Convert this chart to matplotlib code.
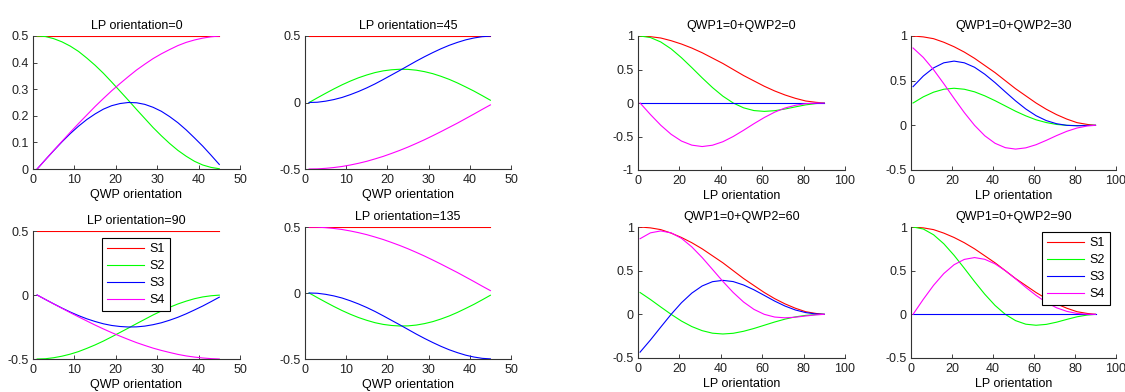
import matplotlib
matplotlib.use("Agg")
import matplotlib.pyplot as plt

plt.rcParams['font.family'] = ['Liberation Sans', 'DejaVu Sans']
FS = 9

# QWP orientation (left block)
qwp_x = list(range(1, 46, 2))

lp0_s1 = [0.5] * 23
lp0_s2 = [0.5, 0.498, 0.49, 0.478, 0.462, 0.442, 0.417, 0.39, 0.36, 0.327, 0.293, 0.259,
          0.224, 0.19, 0.156, 0.125, 0.096, 0.07, 0.048, 0.029, 0.015, 0.006, 0.001]
lp0_s3 = [0.0, 0.035, 0.069, 0.102, 0.133, 0.161, 0.186, 0.207, 0.225, 0.238, 0.246, 0.25,
          0.249, 0.243, 0.232, 0.217, 0.197, 0.174, 0.147, 0.117, 0.086, 0.052, 0.017]
lp0_s4 = [0.0, 0.035, 0.07, 0.104, 0.138, 0.171, 0.203, 0.235, 0.265, 0.294, 0.321, 0.347,
          0.372, 0.394, 0.415, 0.433, 0.449, 0.464, 0.476, 0.485, 0.492, 0.497, 0.5]

lp45_s1 = [0.5] * 23
lp45_s2 = [0.0, 0.035, 0.069, 0.102, 0.133, 0.161, 0.186, 0.207, 0.225, 0.238, 0.246, 0.25,
           0.249, 0.243, 0.232, 0.217, 0.197, 0.174, 0.147, 0.117, 0.086, 0.052, 0.017]
lp45_s3 = [0.0, 0.002, 0.01, 0.022, 0.038, 0.059, 0.083, 0.11, 0.14, 0.173, 0.207, 0.241,
           0.276, 0.311, 0.344, 0.375, 0.404, 0.43, 0.452, 0.471, 0.485, 0.495, 0.499]
lp45_s4 = [-0.5, -0.499, -0.495, -0.489, -0.481, -0.47, -0.457, -0.442, -0.424, -0.405,
           -0.383, -0.36, -0.335, -0.308, -0.28, -0.25, -0.219, -0.187, -0.155, -0.121,
           -0.087, -0.052, -0.018]

lp90_s1 = [0.5] * 23
lp90_s2 = [-0.5, -0.498, -0.49, -0.478, -0.462, -0.442, -0.417, -0.39, -0.36, -0.327,
           -0.293, -0.259, -0.224, -0.19, -0.156, -0.125, -0.096, -0.07, -0.048, -0.029,
           -0.015, -0.006, -0.001]
lp90_s3 = [0.0, -0.035, -0.069, -0.102, -0.133, -0.161, -0.186, -0.207, -0.225, -0.238,
           -0.246, -0.25, -0.249, -0.243, -0.232, -0.217, -0.197, -0.174, -0.147, -0.117,
           -0.086, -0.052, -0.017]
lp90_s4 = [0.0, -0.035, -0.07, -0.104, -0.138, -0.171, -0.203, -0.235, -0.265, -0.294,
           -0.321, -0.347, -0.372, -0.394, -0.415, -0.433, -0.449, -0.464, -0.476, -0.485,
           -0.492, -0.497, -0.5]

lp135_s1 = [0.5] * 23
lp135_s2 = [0.0, -0.035, -0.069, -0.102, -0.133, -0.161, -0.186, -0.207, -0.225, -0.238,
            -0.246, -0.25, -0.249, -0.243, -0.232, -0.217, -0.197, -0.174, -0.147, -0.117,
            -0.086, -0.052, -0.017]
lp135_s3 = [0.0, -0.002, -0.01, -0.022, -0.038, -0.059, -0.083, -0.11, -0.14, -0.173,
            -0.207, -0.241, -0.276, -0.311, -0.344, -0.375, -0.404, -0.43, -0.452, -0.471,
            -0.485, -0.495, -0.499]
lp135_s4 = [0.5, 0.499, 0.495, 0.489, 0.481, 0.47, 0.457, 0.442, 0.424, 0.405, 0.383, 0.36,
            0.335, 0.308, 0.28, 0.25, 0.219, 0.187, 0.155, 0.121, 0.087, 0.052, 0.018]

# LP orientation (right block)
lp_x = [1, 6, 11, 16, 21, 26, 31, 36, 41, 46, 51, 56, 61, 66, 71, 76, 81, 86, 90]

int_s1 = [1.0, 0.99, 0.97, 0.93, 0.88, 0.82, 0.75, 0.67, 0.59, 0.5, 0.41, 0.33,
          0.25, 0.18, 0.12, 0.07, 0.03, 0.01, 0.0]

q0_s2 = [1.0, 0.977, 0.911, 0.808, 0.676, 0.528, 0.375, 0.23, 0.102, 0.0, -0.072,
         -0.113, -0.125, -0.115, -0.09, -0.058, -0.028, -0.008, 0.0]
q0_s3 = [0.0] * 19
q0_s4 = [0.0, -0.172, -0.332, -0.467, -0.568, -0.629, -0.65, -0.63, -0.578, -0.5,
         -0.407, -0.309, -0.217, -0.137, -0.075, -0.034, -0.01, -0.001, 0.0]

q30_s2 = [0.25, 0.319, 0.371, 0.404, 0.415, 0.404, 0.375, 0.33, 0.276, 0.217, 0.158,
          0.106, 0.062, 0.031, 0.01, 0.0, -0.003, -0.001, 0.0]
q30_s3 = [0.433, 0.552, 0.643, 0.70, 0.719, 0.70, 0.65, 0.572, 0.478, 0.375, 0.274,
          0.183, 0.108, 0.053, 0.018, 0.0, -0.005, -0.002, 0.0]
q30_s4 = [0.866, 0.76, 0.623, 0.466, 0.302, 0.143, 0.0, -0.117, -0.201, -0.25, -0.266,
          -0.252, -0.217, -0.168, -0.115, -0.067, -0.03, -0.007, 0.0]

q60_s2 = [0.25, 0.17, 0.084, 0.0, -0.077, -0.14, -0.187, -0.216, -0.225, -0.217,
          -0.194, -0.162, -0.125, -0.088, -0.055, -0.029, -0.012, -0.003, 0.0]
q60_s3 = [-0.433, -0.294, -0.146, 0.0, 0.133, 0.243, 0.325, 0.374, 0.389, 0.375,
          0.336, 0.281, 0.217, 0.152, 0.095, 0.05, 0.02, 0.004, 0.0]
q60_s4 = [0.866, 0.933, 0.955, 0.933, 0.87, 0.772, 0.65, 0.514, 0.377, 0.25, 0.141,
          0.057, 0.0, -0.031, -0.04, -0.033, -0.019, -0.006, 0.0]

q90_s2 = [1.0, 0.977, 0.911, 0.808, 0.676, 0.528, 0.375, 0.23, 0.102, 0.0, -0.072,
          -0.113, -0.125, -0.115, -0.09, -0.058, -0.028, -0.008, 0.0]
q90_s3 = [0.0] * 19
q90_s4 = [0.0, 0.172, 0.332, 0.467, 0.568, 0.629, 0.65, 0.63, 0.578, 0.5, 0.407,
          0.309, 0.217, 0.137, 0.075, 0.034, 0.01, 0.001, 0.0]

colors = ['#ff0000', '#00ff00', '#0000ff', '#ff00ff']
labels = ['S1', 'S2', 'S3', 'S4']

W, H = 1125, 392
fig = plt.figure(figsize=(W / 100, H / 100), dpi=100)


def make_ax(x0, x1, ytop, ybot):
    return fig.add_axes([x0 / W, 1 - ybot / H, (x1 - x0) / W, (ybot - ytop) / H])


def style(ax, title, xlabel, xlim, xticks, ylim, yticks, yticklabels):
    ax.set_title(title, fontsize=FS, pad=5)
    ax.set_xlabel(xlabel, fontsize=FS, labelpad=2.5)
    ax.set_xlim(*xlim)
    ax.set_ylim(*ylim)
    ax.set_xticks(xticks)
    ax.set_yticks(yticks)
    ax.set_yticklabels(yticklabels)
    for s in ['top', 'right']:
        ax.spines[s].set_visible(False)
    for s in ['left', 'bottom']:
        ax.spines[s].set_color('#333333')
        ax.spines[s].set_linewidth(0.8)
    ax.tick_params(direction='in', length=3, width=0.6, pad=3, colors='#222222',
                   labelsize=FS)
    ax.tick_params(axis='x', pad=3.5)


def draw(ax, x, series, legend=None):
    for ys, c, lab in zip(series, colors, labels):
        ax.plot(x, ys, color=c, lw=0.8, label=lab)
    if legend is not None:
        leg = ax.legend(loc='upper left', bbox_to_anchor=legend, fancybox=False,
                        edgecolor='black', framealpha=1, fontsize=FS,
                        handlelength=3.0, handletextpad=0.4, borderpad=0.4,
                        labelspacing=0.4, borderaxespad=0)
        leg.get_frame().set_linewidth(0.8)


half_ticks = [-0.5, 0, 0.5]
half_labels = ['-0.5', '0', '0.5']

# left block
ax = make_ax(33, 240, 36, 169)
draw(ax, qwp_x, [lp0_s1, lp0_s2, lp0_s3, lp0_s4])
style(ax, 'LP orientation=0', 'QWP orientation', (0, 50), range(0, 51, 10),
      (0, 0.5), [0, 0.1, 0.2, 0.3, 0.4, 0.5], ['0', '0.1', '0.2', '0.3', '0.4', '0.5'])

ax = make_ax(305, 511, 36, 169)
draw(ax, qwp_x, [lp45_s1, lp45_s2, lp45_s3, lp45_s4])
style(ax, 'LP orientation=45', 'QWP orientation', (0, 50), range(0, 51, 10),
      (-0.5, 0.5), half_ticks, half_labels)

ax = make_ax(33, 240, 231, 359)
draw(ax, qwp_x, [lp90_s1, lp90_s2, lp90_s3, lp90_s4], legend=(0.333, 0.945))
style(ax, 'LP orientation=90', 'QWP orientation', (0, 50), range(0, 51, 10),
      (-0.5, 0.5), half_ticks, half_labels)

ax = make_ax(305, 511, 227, 359)
draw(ax, qwp_x, [lp135_s1, lp135_s2, lp135_s3, lp135_s4])
style(ax, 'LP orientation=135', 'QWP orientation', (0, 50), range(0, 51, 10),
      (-0.5, 0.5), half_ticks, half_labels)

# right block
ax = make_ax(638, 845, 36, 170)
draw(ax, lp_x, [int_s1, q0_s2, q0_s3, q0_s4])
style(ax, 'QWP1=0+QWP2=0', 'LP orientation', (0, 100), range(0, 101, 20),
      (-1, 1), [-1, -0.5, 0, 0.5, 1], ['-1', '-0.5', '0', '0.5', '1'])

ax = make_ax(911, 1116, 36, 170)
draw(ax, lp_x, [int_s1, q30_s2, q30_s3, q30_s4])
style(ax, 'QWP1=0+QWP2=30', 'LP orientation', (0, 100), range(0, 101, 20),
      (-0.5, 1), [-0.5, 0, 0.5, 1], ['-0.5', '0', '0.5', '1'])

ax = make_ax(638, 845, 227, 358)
draw(ax, lp_x, [int_s1, q60_s2, q60_s3, q60_s4])
style(ax, 'QWP1=0+QWP2=60', 'LP orientation', (0, 100), range(0, 101, 20),
      (-0.5, 1), [-0.5, 0, 0.5, 1], ['-0.5', '0', '0.5', '1'])

ax = make_ax(911, 1116, 227, 358)
draw(ax, lp_x, [int_s1, q90_s2, q90_s3, q90_s4], legend=(0.639, 0.962))
style(ax, 'QWP1=0+QWP2=90', 'LP orientation', (0, 100), range(0, 101, 20),
      (-0.5, 1), [-0.5, 0, 0.5, 1], ['-0.5', '0', '0.5', '1'])

fig.savefig('out.png', dpi=100)
